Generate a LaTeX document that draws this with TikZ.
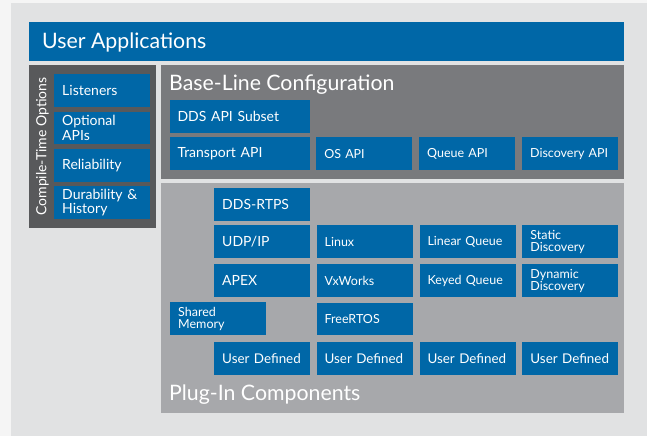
\documentclass[tikz,border=0pt]{standalone}
\usepackage{fontspec}
\setmainfont{Lato}
\usepackage{xcolor}
\usepackage{tikz}
\usetikzlibrary{positioning}
\hyphenpenalty=10000
\exhyphenpenalty=10000

\definecolor{appblue}{HTML}{0067A7}
\definecolor{pagegray}{HTML}{F5F5F5}
\definecolor{backgray}{HTML}{E1E2E3}
\definecolor{darkpanel}{HTML}{58595B}
\definecolor{midpanel}{HTML}{797A7D}
\definecolor{lightpanel}{HTML}{A7A8AB}

\begin{document}
\begin{tikzpicture}[x=1pt, y=-1pt, node distance=6.5pt,
    blk/.style={fill=appblue, text=white, anchor=north west, minimum width=96pt, minimum height=32.7pt,
      text width=80pt, inner xsep=8pt, inner ysep=0pt, align=left, font=\fontsize{14}{14.5}\selectfont},
    sblk/.style={blk, font=\fontsize{12.5}{12}\selectfont},
    udblk/.style={blk, font=\fontsize{13.4}{14}\selectfont},
    wideblk/.style={blk, minimum width=140.4pt, text width=124.4pt},
    ttl/.style={text=white, anchor=base west, inner sep=0pt, font=\fontsize{21.3}{24}\selectfont}]
  \useasboundingbox[fill=pagegray] (0,0) rectangle (647,436);
  \fill[backgray] (11,3) rectangle (647,436);

  % panels
  \fill[appblue] (29,22) rectangle (623.7,60.7);
  \fill[darkpanel] (29,65) rectangle (155.7,227.7);
  \fill[midpanel] (161,65) rectangle (623.7,178.7);
  \fill[lightpanel] (161,182.7) rectangle (623.7,412.7);

  \node[ttl] (apps) at (42,48.3) {User Applications};
  \node[ttl] (base) at (169,90.7) {Base-Line Configuration};
  \node[ttl] (plug) at (169,400) {Plug-In Components};
  \node[text=white, rotate=90, inner sep=0pt, font=\fontsize{14}{14}\selectfont] (cto) at (42.5,146.5) {Compile-Time Options};

  % compile-time options
  \node[blk] (lis) at (54,74) {Listeners};
  \node[blk, below=4.3pt of lis] (opt) {Optional\\APIs};
  \node[blk, below=4.3pt of opt] (rel) {Reliability};
  \node[blk, below=4.3pt of rel] (dur) {Durability \&\\History};

  % base-line configuration
  \node[wideblk] (sub) at (169.3,100) {DDS API Subset};
  \node[wideblk] (tra) at (169.3,137) {Transport API};
  \node[sblk, right=6pt of tra] (osapi) {OS API};
  \node[sblk, right=of osapi] (qapi) {Queue API};
  \node[sblk, right=of qapi] (dapi) {Discovery API};

  % plug-in components
  \node[blk] (rtps) at (214,188) {DDS-RTPS};
  \node[blk] (udp) at (214,225) {UDP/IP};
  \node[sblk, right=6pt of udp] (linux) {Linux};
  \node[sblk, right=of linux] (linq) {Linear Queue};
  \node[sblk, right=of linq] (sdisc) {Static\\Discovery};
  \node[blk] (apex) at (214,264) {APEX};
  \node[sblk, right=6pt of apex] (vxw) {VxWorks};
  \node[sblk, right=of vxw] (keyq) {Keyed Queue};
  \node[sblk, right=of keyq] (ddisc) {Dynamic\\Discovery};
  \node[sblk] (shm) at (170,302) {Shared\\Memory};
  \node[sblk, below=5.3pt of vxw] (frtos) {FreeRTOS};
  \node[udblk] (ud1) at (214,342) {User Defined};
  \node[udblk, right=6pt of ud1] (ud2) {User Defined};
  \node[udblk, right=of ud2] (ud3) {User Defined};
  \node[udblk, right=of ud3] (ud4) {User Defined};
\end{tikzpicture}
\end{document}
